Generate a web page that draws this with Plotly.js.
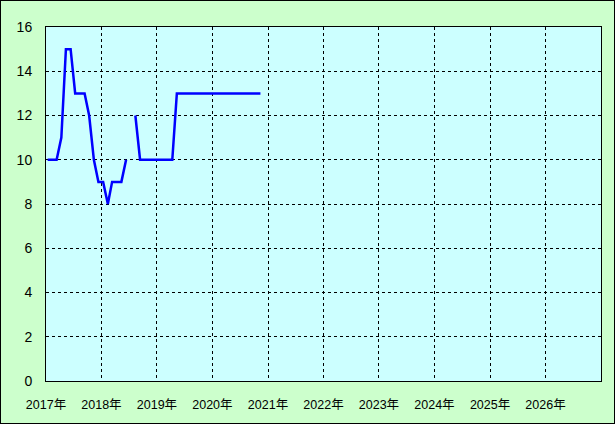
<!DOCTYPE html>
<html><head><meta charset="utf-8">
<script src="https://cdn.plot.ly/plotly-3.0.1.min.js"></script>
<style>
html,body{margin:0;padding:0;background:#CCFFCC;}
#wrap{position:relative;width:615px;height:424px;}
#frame{position:absolute;left:0;top:0;width:615px;height:424px;box-sizing:border-box;border:1px solid #000;pointer-events:none;}
</style></head>
<body>
<div id="wrap"><div id="chart" style="width:615px;height:424px;"></div><div id="frame"></div></div>
<script>
// monthly observations (null = gap)
const dates = [
 "2017-01-12","2017-02-12","2017-03-12","2017-04-12","2017-05-12","2017-06-12","2017-07-12","2017-08-12","2017-09-12","2017-10-12","2017-11-12","2017-12-12",
 "2018-01-12","2018-02-12","2018-03-12","2018-04-12","2018-05-12","2018-06-12","2018-07-12","2018-08-12","2018-09-12","2018-10-12","2018-11-12","2018-12-12",
 "2019-01-12","2019-02-12","2019-03-12","2019-04-12","2019-05-12","2019-06-12","2019-07-12","2019-08-12","2019-09-12","2019-10-12","2019-11-12","2019-12-12",
 "2020-01-12","2020-02-12","2020-03-12","2020-04-12","2020-05-12","2020-06-12","2020-07-12","2020-08-12","2020-09-12","2020-10-12","2020-11-12"
];
const values = [
 10,10,10,11,15,15,13,13,13,12,10,9,
 9,8,9,9,9,10,null,12,10,10,10,10,
 10,10,10,10,13,13,13,13,13,13,13,13,
 13,13,13,13,13,13,13,13,13,13,13
];
const yearTickVals = ["2017-01-01","2018-01-01","2019-01-01","2020-01-01","2021-01-01","2022-01-01","2023-01-01","2024-01-01","2025-01-01","2026-01-01"];
const yearTickText = ["2017年","2018年","2019年","2020年","2021年","2022年","2023年","2024年","2025年","2026年"];
const yTickVals = [0,2,4,6,8,10,12,14,16];

const trace = {
  x: dates, y: values, type: "scatter", mode: "lines",
  line: {color: "#0000FF", width: 2.5},
  connectgaps: false, hoverinfo: "skip"
};
const layout = {
  width: 615, height: 424,
  margin: {l: 46, r: 14, t: 27, b: 43},
  paper_bgcolor: "#CCFFCC", plot_bgcolor: "#CCFFFF",
  showlegend: false,
  font: {family: "Liberation Sans, Arial, 'Noto Sans CJK JP', sans-serif", size: 13, color: "#000"},
  xaxis: {
    type: "date", range: ["2017-01-01","2027-01-01"],
    tickmode: "array", tickvals: yearTickVals, ticktext: yearTickText,
    showgrid: true, gridcolor: "#000", griddash: "3px,3px", gridwidth: 1,
    showline: true, linecolor: "#000", linewidth: 1, mirror: true,
    ticks: "", ticklabelstandoff: 12, zeroline: false,
    tickfont: {family: "Liberation Sans, 'Noto Sans CJK JP', sans-serif", size: 12.5}
  },
  yaxis: {
    range: [0, 16], tickmode: "array", tickvals: yTickVals,
    showgrid: true, gridcolor: "#000", griddash: "3px,3px", gridwidth: 1,
    showline: true, linecolor: "#000", linewidth: 1, mirror: true,
    ticks: "", ticklabelstandoff: 10, zeroline: false,
    tickfont: {size: 14}
  }
};
Plotly.newPlot("chart", [trace], layout, {staticPlot: true, displayModeBar: false});
</script>
</body></html>
